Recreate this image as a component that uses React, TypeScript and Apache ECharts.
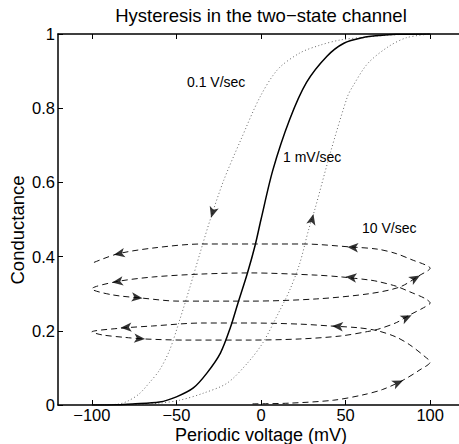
import { useEffect, useRef } from "react";
import * as echarts from "echarts";

const titleText = "Hysteresis in the two\u2212state channel";
const xName = "Periodic voltage (mV)";
const yName = "Conductance";
const xTicks = [-100, -50, 0, 50, 100];
const yTicks = [0, 0.2, 0.4, 0.6, 0.8, 1];
const curveLabels = ["0.1 V/sec", "1 mV/sec", "10 V/sec"];

// 1 mV/sec (steady state)
const slowSweep: [number, number][] = [
  [-100, 0], [-85, 0.001], [-76, 0.003], [-60, 0.008], [-50, 0.022], [-40, 0.046],
  [-32, 0.086], [-24, 0.14], [-18, 0.21], [-13.6, 0.275], [-8, 0.356], [-3.5, 0.43],
  [0, 0.5], [7, 0.633], [17, 0.77], [27, 0.87], [39, 0.94], [49, 0.975], [60, 0.99],
  [70, 0.996], [80, 0.999], [100, 1],
];

// 0.1 V/sec, descending branch
const mediumDown: [number, number][] = [
  [100, 1], [85, 0.999], [75, 0.997], [63, 0.992], [47, 0.984], [35, 0.97], [23, 0.949],
  [10, 0.905], [-0.6, 0.83], [-12, 0.714], [-22, 0.606], [-30, 0.5], [-36, 0.41],
  [-42, 0.318], [-48, 0.23], [-54, 0.148], [-60, 0.094], [-66, 0.06], [-72, 0.03],
  [-79, 0.01], [-85, 0.002], [-100, 0],
];

// 0.1 V/sec, ascending branch
const mediumUp: [number, number][] = [
  [-100, 0], [-75, 0.002], [-60, 0.005], [-48, 0.013], [-34, 0.032], [-20, 0.059],
  [-8, 0.113], [1, 0.167], [10, 0.245], [17, 0.31], [23, 0.383], [28, 0.47], [32, 0.53],
  [41, 0.68], [51, 0.83], [54, 0.857], [63, 0.92], [75, 0.965], [86, 0.99], [100, 1],
];

// 10 V/sec, continuous oscillating trajectory
const fastSweep: [number, number][] = [
  [-5, 0.003], [17, 0.005], [43, 0.013], [60, 0.027], [72, 0.042], [84, 0.067], [94, 0.095], [100, 0.116],
  [97, 0.13], [88, 0.162], [80, 0.183], [69, 0.2], [58, 0.208], [41, 0.213], [23, 0.218], [-6, 0.221],
  [-35, 0.221], [-64, 0.213], [-83, 0.207], [-100, 0.197],
  [-94, 0.189], [-80, 0.182], [-69, 0.178], [-45, 0.175], [-6, 0.175], [23, 0.178], [47, 0.186],
  [63, 0.198], [69, 0.204], [80, 0.222], [88, 0.243], [96, 0.262], [100, 0.275],
  [97, 0.287], [88, 0.305], [80, 0.32], [69, 0.333], [64, 0.337], [48, 0.345], [33, 0.35], [-6, 0.356],
  [-35, 0.353], [-64, 0.345], [-86, 0.332], [-100, 0.313],
  [-88, 0.297], [-70, 0.288], [-49, 0.28], [-6, 0.28], [33, 0.286], [64, 0.3], [82, 0.318], [94, 0.35], [100, 0.369],
  [97, 0.378], [90, 0.39], [80, 0.408], [69, 0.42], [53, 0.426], [25, 0.434], [-5, 0.434], [-35, 0.434],
  [-64, 0.423], [-85, 0.407], [-100, 0.382],
];

// arrowheads: position and a point just behind it on the curve (gives direction)
const arrowTips: [number, number][] = [
  [84, 0.066], [42, 0.213], [-83, 0.208], [-68.5, 0.178], [89, 0.242], [50, 0.346],
  [-88, 0.33], [-70, 0.288], [94, 0.349], [51, 0.426], [-87, 0.405], [-29.5, 0.505], [31, 0.515],
];
const arrowTails: [number, number][] = [
  [72, 0.042], [58, 0.208], [-64, 0.213], [-85, 0.184], [80, 0.222], [64, 0.338],
  [-70, 0.342], [-88, 0.297], [85, 0.325], [69, 0.42], [-70, 0.42], [-24, 0.59], [27, 0.44],
];

const FONT = "'Liberation Sans', Arial, Helvetica, sans-serif";
const fmt = (v: number) => (v < 0 ? "\u2212" + Math.abs(v) : String(v));

export default function App() {
  const ref = useRef<HTMLDivElement>(null);
  useEffect(() => {
    if (!ref.current) return;
    const chart = echarts.init(ref.current, undefined, { renderer: "svg" });
    const axisLineStyle = { color: "#000", width: 1.5 };
    chart.setOption({
      animation: false,
      backgroundColor: "#fff",
      grid: { left: 58, top: 34, width: 406, height: 371, outerBoundsMode: "none", containLabel: false },
      xAxis: [
        {
          type: "value", min: -120, max: 120, position: "bottom",
          axisLine: { show: true, onZero: false, lineStyle: axisLineStyle },
          axisTick: { show: true, inside: true, length: 5, customValues: xTicks, lineStyle: { color: "#000", width: 1 } },
          axisLabel: { show: true, customValues: xTicks, formatter: fmt, color: "#000", fontSize: 16.5, fontFamily: FONT, margin: 2, lineHeight: 16.5 },
          splitLine: { show: false },
        },
        {
          type: "value", min: -120, max: 120, position: "top",
          axisLine: { show: true, onZero: false, lineStyle: axisLineStyle },
          axisTick: { show: true, inside: true, length: 5, customValues: xTicks, lineStyle: { color: "#000", width: 1 } },
          axisLabel: { show: false },
          splitLine: { show: false },
        },
      ],
      yAxis: [
        {
          type: "value", min: 0, max: 1, interval: 0.2, position: "left",
          axisLine: { show: true, onZero: false, lineStyle: axisLineStyle },
          axisTick: { show: true, inside: true, length: 5, lineStyle: { color: "#000", width: 1 } },
          axisLabel: { show: true, color: "#000", fontSize: 16.5, fontFamily: FONT, margin: 3, formatter: (v: number) => String(Math.round(v * 10) / 10) },
          splitLine: { show: false },
        },
      ],
      series: [
        {
          type: "line", data: mediumDown, smooth: 0.3, symbol: "none", silent: true,
          lineStyle: { color: "#666", width: 1, type: [1, 2.5] }, z: 2,
        },
        {
          type: "line", data: mediumUp, smooth: 0.3, symbol: "none", silent: true,
          lineStyle: { color: "#666", width: 1, type: [1, 2.5] }, z: 2,
        },
        {
          type: "line", data: slowSweep, smooth: 0.3, symbol: "none", silent: true,
          lineStyle: { color: "#000", width: 1.5 }, z: 3,
        },
        {
          type: "line", data: fastSweep, smooth: 0.3, symbol: "none", silent: true,
          lineStyle: { color: "#111", width: 1, type: [6, 4] }, z: 4,
        },
        {
          id: "arrows", type: "scatter", data: [], symbol: "arrow", symbolSize: [7, 11], silent: true,
          itemStyle: { color: "#000" }, z: 5,
        },
      ],
      graphic: [
        { type: "text", x: 261, y: 15, style: { text: titleText, fill: "#000", font: `18.5px ${FONT}`, textAlign: "center", textVerticalAlign: "middle" } },
        { type: "text", x: 261, y: 435, style: { text: xName, fill: "#000", font: `18px ${FONT}`, textAlign: "center", textVerticalAlign: "middle" } },
        { type: "text", x: 17, y: 230, rotation: Math.PI / 2, style: { text: yName, fill: "#000", font: `18.5px ${FONT}`, textAlign: "center", textVerticalAlign: "middle" } },
        { type: "text", x: 187, y: 82, style: { text: curveLabels[0], fill: "#000", font: `14px ${FONT}`, textAlign: "left", textVerticalAlign: "middle" } },
        { type: "text", x: 283, y: 157, style: { text: curveLabels[1], fill: "#000", font: `14px ${FONT}`, textAlign: "left", textVerticalAlign: "middle" } },
        { type: "text", x: 362, y: 228, style: { text: curveLabels[2], fill: "#000", font: `14px ${FONT}`, textAlign: "left", textVerticalAlign: "middle" } },
      ],
    });
    const arrowData = arrowTips.map((p, i) => {
      const a = chart.convertToPixel({ gridIndex: 0 }, p) as number[];
      const b = chart.convertToPixel({ gridIndex: 0 }, arrowTails[i]) as number[];
      const dx = a[0] - b[0];
      const dy = a[1] - b[1];
      const rot = (Math.atan2(-dx, -dy) * 180) / Math.PI;
      return { value: p, symbolRotate: rot };
    });
    chart.setOption({ series: [{ id: "arrows", data: arrowData }] });
    return () => chart.dispose();
  }, []);
  return <div ref={ref} style={{ position: "fixed", left: 0, top: 0, width: 459, height: 444, background: "#fff" }} />;
}
